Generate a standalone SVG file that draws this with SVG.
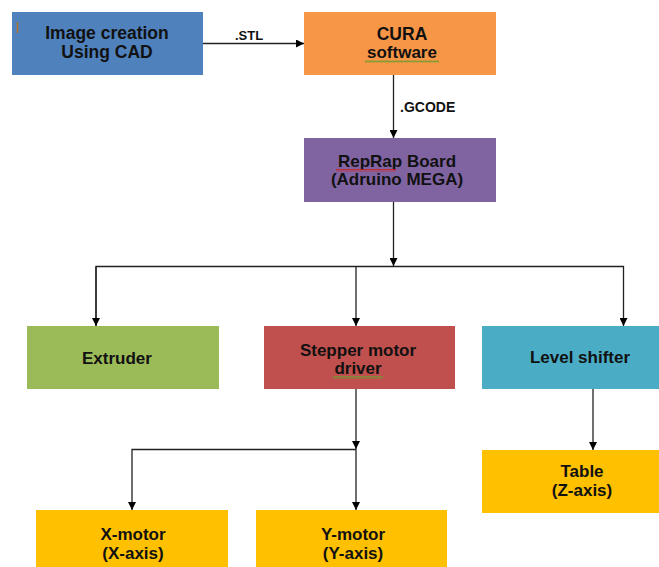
<svg xmlns="http://www.w3.org/2000/svg" width="659" height="567" viewBox="0 0 659 567">
<defs>
<marker id="ah" viewBox="0 0 8 8" refX="8" refY="4" markerWidth="8" markerHeight="8" markerUnits="userSpaceOnUse" orient="auto">
<path d="M0,0 L8,4 L0,8 Z" fill="#000"/>
</marker>
<pattern id="wg" width="4" height="3" patternUnits="userSpaceOnUse">
<path d="M0,2.5 L1,0.5 L2,2.5 L3,0.5 L4,2.5" fill="none" stroke="#6B9A2E" stroke-width="0.8"/>
</pattern>
<pattern id="wr" width="4" height="3" patternUnits="userSpaceOnUse">
<path d="M0,2.5 L1,0.5 L2,2.5 L3,0.5 L4,2.5" fill="none" stroke="#D02020" stroke-width="0.8"/>
</pattern>
</defs>
<style>
.t{font-family:"Liberation Sans",Arial,sans-serif;font-weight:bold;fill:#111;text-anchor:middle;dominant-baseline:central}
.big{font-size:17.5px}
.mid{font-size:17px}
.lbl{font-family:"Liberation Sans",Arial,sans-serif;font-weight:bold;font-size:13px;fill:#111;dominant-baseline:central}
.c{fill:none;stroke:#222;stroke-width:1.3}
</style>
<rect width="659" height="567" fill="#fff"/>
<g id="n-cad">
<rect x="12" y="12" width="191" height="63" fill="#4F81BD"/>
<line x1="17.5" y1="22" x2="17.5" y2="33" stroke="#B5732A" stroke-width="1.5"/>
<text class="t big" x="107" y="33">Image creation</text>
<text class="t big" x="107" y="52">Using CAD</text>
</g>
<g id="n-cura">
<rect x="304" y="12" width="192" height="63" fill="#F79646"/>
<text class="t big" x="402" y="34">CURA</text>
<text class="t mid" x="402" y="52">software</text>
<rect x="365" y="60" width="74" height="3" fill="url(#wg)"/>
</g>
<g id="n-reprap">
<rect x="304" y="138" width="192" height="64" fill="#8064A2"/>
<text class="t mid" x="397" y="161">RepRap Board</text>
<text class="t mid" x="397" y="179">(Adruino MEGA)</text>
<rect x="336" y="169" width="60" height="3" fill="url(#wr)"/>
</g>
<g id="n-extruder">
<rect x="27" y="326" width="192" height="63" fill="#9BBB59"/>
<text class="t mid" x="117" y="358">Extruder</text>
</g>
<g id="n-stepper">
<rect x="264" y="326" width="191" height="63" fill="#C0504D"/>
<text class="t mid" x="358" y="350">Stepper motor</text>
<text class="t mid" x="358" y="368">driver</text>
<rect x="333" y="376" width="50" height="3" fill="url(#wg)"/>
</g>
<g id="n-level">
<rect x="482" y="326" width="177" height="63" fill="#4BACC6"/>
<text class="t mid" x="580" y="357">Level shifter</text>
</g>
<g id="n-table">
<rect x="482" y="450" width="177" height="63" fill="#FFC000"/>
<text class="t mid" x="582" y="471">Table</text>
<text class="t mid" x="582" y="490">(Z-axis)</text>
</g>
<g id="n-xmotor">
<rect x="36" y="510" width="192" height="57" fill="#FFC000"/>
<text class="t mid" x="133" y="534">X-motor</text>
<text class="t mid" x="133" y="553">(X-axis)</text>
</g>
<g id="n-ymotor">
<rect x="256" y="510" width="191" height="57" fill="#FFC000"/>
<text class="t mid" x="353" y="534">Y-motor</text>
<text class="t mid" x="353" y="553">(Y-axis)</text>
</g>
<g id="connectors">
<line class="c" x1="203" y1="43.5" x2="304" y2="43.5" marker-end="url(#ah)"/>
<text class="lbl" x="235" y="35">.STL</text>
<line class="c" x1="393.5" y1="75" x2="393.5" y2="138" marker-end="url(#ah)"/>
<text class="lbl" x="400" y="107" style="font-size:14px">.GCODE</text>
<line class="c" x1="393.5" y1="202" x2="393.5" y2="266" marker-end="url(#ah)"/>
<polyline class="c" points="96,326 96,266.5 623.5,266.5 623.5,326" marker-end="url(#ah)"/>
<line class="c" x1="96" y1="266.5" x2="96" y2="326" marker-end="url(#ah)"/>
<line class="c" x1="356" y1="266.5" x2="356" y2="326" marker-end="url(#ah)"/>
<line class="c" x1="356" y1="389" x2="356" y2="449" marker-end="url(#ah)"/>
<polyline class="c" points="356,449.5 132,449.5 132,510" marker-end="url(#ah)"/>
<line class="c" x1="356" y1="449" x2="356" y2="510" marker-end="url(#ah)"/>
<line class="c" x1="593" y1="389" x2="593" y2="450" marker-end="url(#ah)"/>
</g>
</svg>
